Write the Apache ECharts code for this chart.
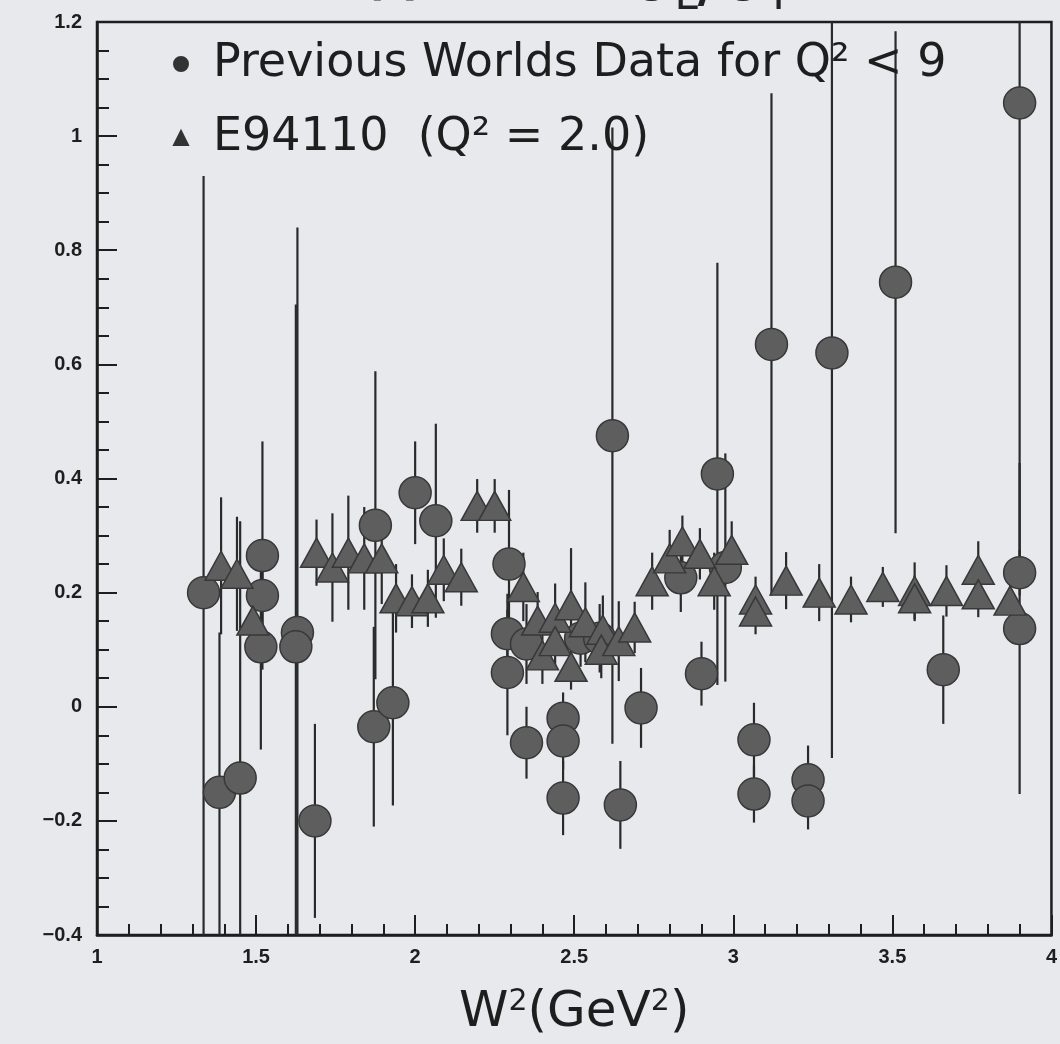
<!DOCTYPE html>
<html>
<head>
<meta charset="utf-8">
<script src="https://cdn.jsdelivr.net/npm/echarts@6/dist/echarts.min.js"></script>
<style>
html,body{margin:0;padding:0;background:#e7e9ed;}
#chart{width:1060px;height:1044px;}
</style>
</head>
<body>
<div id="chart"></div>
<script>
// ---- Data ----
const prevName = 'Previous Worlds Data for Q\u00B2 < 9';
const e94Name = 'E94110  (Q\u00B2 = 2.0)';

const prevX   = [1.335, 1.385, 1.45, 1.52, 1.52, 1.515, 1.63, 1.625, 1.685, 1.875, 1.87, 1.93, 2.0, 2.065,
                 2.295, 2.29, 2.29, 2.35, 2.35, 2.465, 2.465, 2.465, 2.52, 2.58, 2.62, 2.645, 2.71, 2.835,
                 2.9, 2.95, 2.975, 3.065, 3.065, 3.12, 3.235, 3.235, 3.31, 3.51, 3.66, 3.9, 3.9, 3.9];
const prevY   = [0.20, -0.15, -0.125, 0.265, 0.195, 0.105, 0.13, 0.105, -0.20, 0.318, -0.035, 0.007, 0.375, 0.326,
                 0.25, 0.128, 0.06, 0.11, -0.063, -0.02, -0.06, -0.16, 0.12, 0.12, 0.475, -0.172, -0.002, 0.226,
                 0.058, 0.408, 0.244, -0.058, -0.153, 0.635, -0.128, -0.165, 0.62, 0.744, 0.065, 1.058, 0.235, 0.137];
const prevErr = [0.73, 0.28, 0.45, 0.20, 0.05, 0.18, 0.71, 0.60, 0.17, 0.27, 0.175, 0.18, 0.09, 0.17,
                 0.13, 0.07, 0.11, 0.07, 0.063, 0.045, 0.05, 0.065, 0.05, 0.06, 0.54, 0.077, 0.07, 0.06,
                 0.056, 0.37, 0.20, 0.065, 0.05, 0.44, 0.06, 0.05, 0.71, 0.44, 0.095, 0.82, 0.04, 0.29];

const e94X   = [1.39, 1.44, 1.49, 1.69, 1.74, 1.79, 1.84, 1.895, 1.94, 1.99, 2.04, 2.09, 2.145, 2.195, 2.25,
                2.34, 2.385, 2.40, 2.44, 2.44, 2.49, 2.49, 2.535, 2.59, 2.585, 2.64, 2.69, 2.745, 2.8, 2.84,
                2.895, 2.94, 2.995, 3.07, 3.07, 3.166, 3.27, 3.37, 3.47, 3.57, 3.57, 3.67, 3.77, 3.77, 3.87];
const e94Y   = [0.247, 0.233, 0.151, 0.27, 0.244, 0.27, 0.26, 0.26, 0.19, 0.185, 0.19, 0.24, 0.227, 0.352, 0.352,
                0.21, 0.151, 0.09, 0.156, 0.115, 0.178, 0.07, 0.148, 0.135, 0.10, 0.115, 0.139, 0.22, 0.26, 0.29,
                0.268, 0.22, 0.275, 0.188, 0.167, 0.221, 0.20, 0.188, 0.21, 0.203, 0.19, 0.203, 0.24, 0.197, 0.186];
const e94Err = [0.12, 0.10, 0.03, 0.058, 0.095, 0.10, 0.09, 0.08, 0.06, 0.047, 0.05, 0.055, 0.05, 0.047, 0.047,
                0.06, 0.05, 0.05, 0.06, 0.05, 0.10, 0.04, 0.07, 0.06, 0.05, 0.07, 0.045, 0.05, 0.05, 0.045,
                0.045, 0.05, 0.05, 0.04, 0.04, 0.05, 0.05, 0.04, 0.035, 0.05, 0.04, 0.045, 0.05, 0.04, 0.04];

const xRange = [1, 4];
const yRange = [-0.4, 1.2];
const xTickStep = 0.5;
const yTickStep = 0.2;

// ---- Build series data ----
const prevPts = prevX.map((x, i) => [x, prevY[i]]);
const e94Pts = e94X.map((x, i) => [x, e94Y[i]]);
const prevBars = prevX.map((x, i) => [x, prevY[i] - prevErr[i], prevY[i] + prevErr[i]]);
const e94Bars = e94X.map((x, i) => [x, e94Y[i] - e94Err[i], e94Y[i] + e94Err[i]]);

function errRender(params, api) {
  const x = api.value(0);
  const lo = Math.max(api.value(1), yRange[0]);
  const hi = Math.min(api.value(2), yRange[1]);
  const p1 = api.coord([x, lo]);
  const p2 = api.coord([x, hi]);
  return {
    type: 'line',
    shape: { x1: p1[0], y1: p1[1], x2: p2[0], y2: p2[1] },
    style: { stroke: '#2a2a2a', lineWidth: 2.2 }
  };
}

const chart = echarts.init(document.getElementById('chart'), null, { renderer: 'canvas' });

const markerStyle = { color: '#5e5e5e', borderColor: '#383838', borderWidth: 1.5, opacity: 1 };

chart.setOption({
  backgroundColor: '#e7e9ed',
  animation: false,
  title: {
    text: 'R  =     \u03C3{sub|L}/\u03C3{sub|T}',
    left: 362,
    top: -60,
    textStyle: {
      fontFamily: 'DejaVu Sans',
      fontSize: 70,
      fontWeight: 'normal',
      color: '#222',
      rich: { sub: { fontSize: 42, verticalAlign: 'bottom', padding: [32, 0, 0, 0], color: '#222', fontFamily: 'DejaVu Sans' } }
    }
  },
  grid: {
    left: 97, right: 5, top: 22, bottom: 109,
    show: true, borderColor: '#1e1e1e', borderWidth: 2.5, backgroundColor: 'transparent'
  },
  legend: {
    data: [prevName, e94Name],
    orient: 'vertical',
    left: 168,
    top: 33,
    itemWidth: 14,
    itemHeight: 14,
    itemGap: 22,
    selectedMode: false,
    textStyle: {
      fontFamily: 'DejaVu Sans',
      fontSize: 46,
      lineHeight: 52,
      color: '#1e1e1e',
      padding: [0, 0, 0, 20]
    },
    itemStyle: { color: '#333', borderColor: '#333' }
  },
  xAxis: {
    type: 'value',
    min: xRange[0], max: xRange[1], interval: xTickStep,
    name: 'W{sup|2}(GeV{sup|2})',
    nameLocation: 'middle',
    nameGap: 52,
    nameTextStyle: {
      fontFamily: 'DejaVu Sans', fontSize: 50, color: '#1e1e1e',
      rich: { sup: { fontSize: 30, verticalAlign: 'top', padding: [0, 0, 22, 0], fontFamily: 'DejaVu Sans', color: '#1e1e1e' } }
    },
    axisLine: { show: true, onZero: false, lineStyle: { color: '#1e1e1e', width: 2.5 } },
    axisTick: { show: true, inside: true, length: 20, lineStyle: { color: '#1e1e1e', width: 2 } },
    minorTick: { show: true, splitNumber: 5, length: 11, lineStyle: { color: '#1e1e1e', width: 2 } },
    splitLine: { show: false },
    axisLabel: {
      margin: 12, fontFamily: 'Liberation Sans', fontWeight: 'bold', fontSize: 20, color: '#1e1e1e',
      formatter: v => String(+v.toFixed(2))
    }
  },
  yAxis: {
    type: 'value',
    min: yRange[0], max: yRange[1], interval: yTickStep,
    axisLine: { show: true, onZero: false, lineStyle: { color: '#1e1e1e', width: 2.5 } },
    axisTick: { show: true, inside: true, length: 20, lineStyle: { color: '#1e1e1e', width: 2 } },
    minorTick: { show: true, splitNumber: 4, length: 12, lineStyle: { color: '#1e1e1e', width: 2 } },
    splitLine: { show: false },
    axisLabel: {
      margin: 15, fontFamily: 'Liberation Sans', fontWeight: 'bold', fontSize: 20, color: '#1e1e1e',
      formatter: v => String(+v.toFixed(2)).replace('-', '\u2212')
    }
  },
  series: [
    { type: 'custom', renderItem: errRender, data: prevBars, z: 1, silent: true,
      encode: { x: 0, y: [1, 2] } },
    { type: 'custom', renderItem: errRender, data: e94Bars, z: 1, silent: true,
      encode: { x: 0, y: [1, 2] } },
    { name: prevName, type: 'scatter', symbol: 'circle', symbolSize: 32, data: prevPts, z: 3,
      itemStyle: markerStyle },
    { name: e94Name, type: 'scatter', symbol: 'triangle', symbolSize: [32, 29], data: e94Pts, z: 4,
      itemStyle: markerStyle }
  ]
});
</script>
</body>
</html>
